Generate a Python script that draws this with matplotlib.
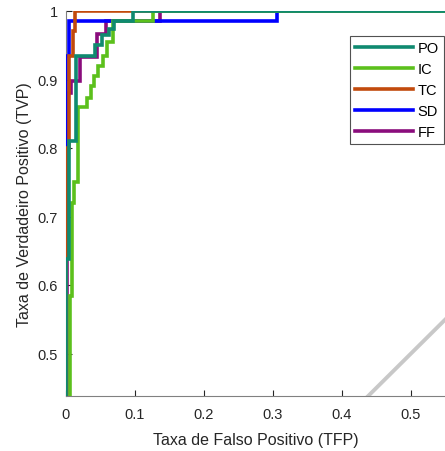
import matplotlib
matplotlib.use("Agg")
import matplotlib.pyplot as plt

plt.rcParams['font.family'] = ['Liberation Sans', 'DejaVu Sans']

labels = ["PO", "IC", "TC", "SD", "FF"]
colors = ["#0f8a70", "#5cc01c", "#c24a0c", "#0000ff", "#8a0c7c"]

po_x = [0, 0, 0.005, 0.005, 0.014, 0.014, 0.042, 0.042, 0.052, 0.052, 0.062, 0.062, 0.070, 0.070, 0.097, 0.097, 1]
po_y = [0, 0.638, 0.638, 0.810, 0.810, 0.935, 0.935, 0.950, 0.950, 0.965, 0.965, 0.973, 0.973, 0.985, 0.985, 1, 1]

ic_x = [0.006, 0.006, 0.009, 0.009, 0.012, 0.012, 0.017, 0.017, 0.030, 0.030, 0.036, 0.036, 0.041, 0.041, 0.047, 0.047, 0.053, 0.053, 0.060, 0.060, 0.068, 0.068, 0.126, 0.126, 1]
ic_y = [0, 0.584, 0.584, 0.720, 0.720, 0.750, 0.750, 0.860, 0.860, 0.873, 0.873, 0.890, 0.890, 0.905, 0.905, 0.920, 0.920, 0.935, 0.935, 0.955, 0.955, 0.986, 0.986, 1, 1]

tc_x = [0, 0, 0.004, 0.004, 0.010, 0.010, 0.013, 0.013, 1]
tc_y = [0, 0.800, 0.800, 0.934, 0.934, 0.971, 0.971, 1, 1]

sd_x = [0, 0, 0.005, 0.005, 0.306, 0.306, 1]
sd_y = [0, 0.934, 0.934, 0.985, 0.985, 1, 1]

ff_x = [0.002, 0.002, 0.007, 0.007, 0.020, 0.020, 0.045, 0.045, 0.058, 0.058, 0.136, 0.136, 1]
ff_y = [0, 0.880, 0.880, 0.898, 0.898, 0.933, 0.933, 0.966, 0.966, 0.985, 0.985, 1, 1]

series_x = [po_x, ic_x, tc_x, sd_x, ff_x]
series_y = [po_y, ic_y, tc_y, sd_y, ff_y]

diag = [0, 1]

fig = plt.figure(figsize=(4.45, 4.52), dpi=100)
ax = fig.add_axes([66/445, 55/452, 379/445, 385/452])

ax.plot(diag, diag, color="#c8c8c8", lw=2.8, zorder=1)
handles = []
for i in reversed(range(5)):
    h, = ax.plot(series_x[i], series_y[i], color=colors[i], lw=2.6, label=labels[i],
                 zorder=2 + (5 - i), solid_joinstyle='miter')
    handles.append(h)
handles = handles[::-1]

ax.set_xlim(0, 379/690)
ax.set_ylim(1 - 385/685, 1)
ax.set_xticks([0, 0.1, 0.2, 0.3, 0.4, 0.5])
ax.set_xticklabels(["0", "0.1", "0.2", "0.3", "0.4", "0.5"])
ax.set_yticks([0.5, 0.6, 0.7, 0.8, 0.9, 1])
ax.set_yticklabels(["0.5", "0.6", "0.7", "0.8", "0.9", "1"])
ax.tick_params(direction='in', length=4, width=0.8, colors='#262626', labelsize=10.5)
ax.tick_params(axis='x', pad=8)
ax.tick_params(axis='y', pad=6)
for s in ['top', 'right']:
    ax.spines[s].set_visible(False)
for s in ['left', 'bottom']:
    ax.spines[s].set_color('#808080')
    ax.spines[s].set_linewidth(0.8)

ax.set_xlabel("Taxa de Falso Positivo (TFP)", fontsize=11.5, color='#262626', labelpad=8)
ax.set_ylabel("Taxa de Verdadeiro Positivo (TVP)", fontsize=11.5, color='#262626', labelpad=4)

leg = fig.legend(handles, labels, loc='upper left', bbox_to_anchor=(350/445, 1 - 37/452),
                 fontsize=10.5, frameon=True, fancybox=False, edgecolor='#262626',
                 handlelength=4.0, handletextpad=0.3, labelspacing=0.48,
                 borderpad=0.35, borderaxespad=0)
leg.get_frame().set_linewidth(0.8)
leg.set_zorder(20)

fig.savefig("out.png", dpi=100)
